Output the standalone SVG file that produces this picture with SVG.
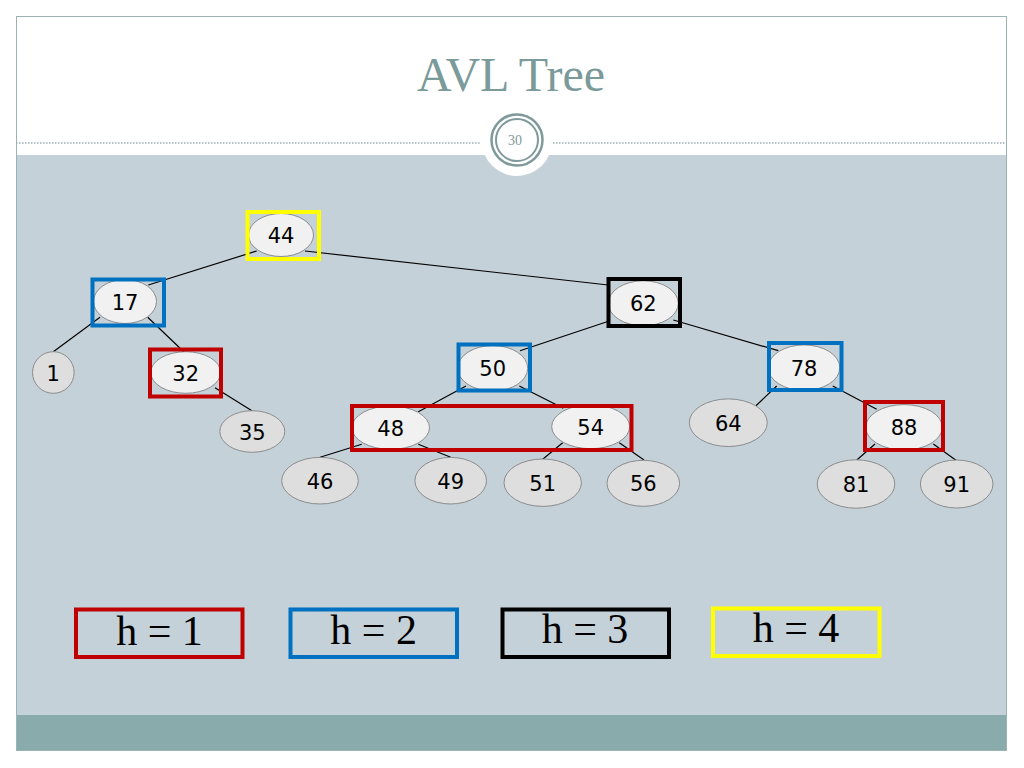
<svg xmlns="http://www.w3.org/2000/svg" width="1024" height="768" viewBox="0 0 1024 768">
<style>
.edge{stroke:#000;stroke-width:1.2;fill:none}
.inner{fill:#f1f1f1;stroke:#8c8c8c;stroke-width:1}
.leaf{fill:#dedede;stroke:#8c8c8c;stroke-width:1}
.lbl{font-family:"DejaVu Sans",Verdana,sans-serif;font-size:21px;fill:#000;text-anchor:middle}
.box{fill:none;stroke-width:4}
.leg{font-family:"Liberation Serif","Times New Roman",serif;font-size:42px;fill:#000;text-anchor:middle}
</style>
<rect x="0" y="0" width="1024" height="768" fill="#ffffff"/>
<rect x="16" y="155" width="991" height="560" fill="#c5d1d8"/>
<rect x="16" y="715" width="991" height="36" fill="#8aabab"/>
<rect x="16.5" y="16.5" width="990" height="734" fill="none" stroke="#9cb3b3" stroke-width="1"/>
<g id="header">
<text x="511" y="91" font-family="'Liberation Serif','Times New Roman',serif" font-size="48" fill="#7b9a9a" text-anchor="middle">AVL Tree</text>
<line x1="16" y1="143" x2="481" y2="143" stroke="#9aaeae" stroke-width="1.5" stroke-dasharray="1.5,1.5"/>
<line x1="547" y1="143" x2="1007" y2="143" stroke="#9aaeae" stroke-width="1.5" stroke-dasharray="1.5,1.5"/>
<circle cx="517" cy="141" r="35" fill="#ffffff"/>
<circle cx="517" cy="140" r="25.5" fill="none" stroke="#7f9a9a" stroke-width="2.5"/>
<circle cx="517" cy="140" r="21" fill="none" stroke="#7f9a9a" stroke-width="2"/>
<text x="515" y="145" font-family="'Liberation Serif','Times New Roman',serif" font-size="14" fill="#7f9a9a" text-anchor="middle">30</text>
</g>
<g id="connectors">
<line class="edge" x1="256.7" y1="251" x2="148.3" y2="285"/>
<line class="edge" x1="305" y1="251" x2="608.3" y2="285"/>
<line class="edge" x1="100" y1="317.3" x2="53.3" y2="351.7"/>
<line class="edge" x1="147.7" y1="317.3" x2="184" y2="352"/>
<line class="edge" x1="215" y1="387.7" x2="252.3" y2="411"/>
<line class="edge" x1="610" y1="320.7" x2="520" y2="350.7"/>
<line class="edge" x1="673.3" y1="320" x2="778.3" y2="350.7"/>
<line class="edge" x1="466" y1="386" x2="418.3" y2="411.7"/>
<line class="edge" x1="519.3" y1="386" x2="563.3" y2="408.3"/>
<line class="edge" x1="361.7" y1="444.3" x2="320" y2="457.3"/>
<line class="edge" x1="418.3" y1="444.3" x2="450.7" y2="457.3"/>
<line class="edge" x1="562.7" y1="442.7" x2="542.7" y2="459.3"/>
<line class="edge" x1="619.3" y1="442.7" x2="644" y2="460"/>
<line class="edge" x1="776.7" y1="386" x2="756" y2="405.7"/>
<line class="edge" x1="832.7" y1="386" x2="876.7" y2="409.3"/>
<line class="edge" x1="875" y1="444" x2="856" y2="460.7"/>
<line class="edge" x1="933.3" y1="444" x2="956.7" y2="460.7"/>
</g>
<g id="n44"><ellipse class="inner" cx="281" cy="235" rx="32.5" ry="21.5"/><text class="lbl" x="281" y="243">44</text></g>
<g id="n17"><ellipse class="inner" cx="125" cy="301.5" rx="31.5" ry="22"/><text class="lbl" x="125" y="309.5">17</text></g>
<g id="n1"><ellipse class="leaf" cx="53.3" cy="372.5" rx="20.8" ry="20.8"/><text class="lbl" x="53.3" y="380.5">1</text></g>
<g id="n32"><ellipse class="inner" cx="185.7" cy="372.5" rx="35" ry="20.8"/><text class="lbl" x="185.7" y="380.5">32</text></g>
<g id="n35"><ellipse class="leaf" cx="252.3" cy="431.5" rx="32.5" ry="20.8"/><text class="lbl" x="252.3" y="439.5">35</text></g>
<g id="n62"><ellipse class="inner" cx="643.3" cy="303.3" rx="35" ry="22.5"/><text class="lbl" x="643.3" y="311.3">62</text></g>
<g id="n50"><ellipse class="inner" cx="492.7" cy="368.3" rx="35" ry="22.8"/><text class="lbl" x="492.7" y="376.3">50</text></g>
<g id="n48"><ellipse class="inner" cx="390.7" cy="427.7" rx="38.8" ry="21.7"/><text class="lbl" x="390.7" y="435.7">48</text></g>
<g id="n54"><ellipse class="inner" cx="590.7" cy="426.7" rx="39" ry="22"/><text class="lbl" x="590.7" y="434.7">54</text></g>
<g id="n46"><ellipse class="leaf" cx="320" cy="480.7" rx="38.3" ry="23.3"/><text class="lbl" x="320" y="488.7">46</text></g>
<g id="n49"><ellipse class="leaf" cx="450.7" cy="480.7" rx="35.8" ry="23.3"/><text class="lbl" x="450.7" y="488.7">49</text></g>
<g id="n51"><ellipse class="leaf" cx="542.7" cy="482.7" rx="38.7" ry="23.7"/><text class="lbl" x="542.7" y="490.7">51</text></g>
<g id="n56"><ellipse class="leaf" cx="643.3" cy="483.3" rx="36.3" ry="23"/><text class="lbl" x="643.3" y="491.3">56</text></g>
<g id="n78"><ellipse class="inner" cx="804" cy="367.7" rx="35.8" ry="22.8"/><text class="lbl" x="804" y="375.7">78</text></g>
<g id="n64"><ellipse class="leaf" cx="728.3" cy="422.7" rx="39" ry="23.8"/><text class="lbl" x="728.3" y="430.7">64</text></g>
<g id="n88"><ellipse class="inner" cx="904" cy="427.3" rx="38.3" ry="22.7"/><text class="lbl" x="904" y="435.3">88</text></g>
<g id="n81"><ellipse class="leaf" cx="856" cy="484" rx="38.8" ry="24.2"/><text class="lbl" x="856" y="492">81</text></g>
<g id="n91"><ellipse class="leaf" cx="956.7" cy="484" rx="36.3" ry="24"/><text class="lbl" x="956.7" y="492">91</text></g>
<g id="height-boxes">
<rect class="box" x="247.5" y="212" width="71.5" height="47" stroke="#ffff00"/>
<rect class="box" x="92.5" y="279.5" width="71.5" height="46" stroke="#0070c0"/>
<rect class="box" x="150" y="349.5" width="71" height="47" stroke="#c00000"/>
<rect class="box" x="608.5" y="279" width="71.5" height="47" stroke="#000000"/>
<rect class="box" x="458.5" y="344.5" width="71.5" height="46" stroke="#0070c0"/>
<rect class="box" x="352" y="406" width="279.5" height="44" stroke="#c00000"/>
<rect class="box" x="769" y="343" width="72.5" height="47" stroke="#0070c0"/>
<rect class="box" x="865" y="402" width="78" height="48" stroke="#c00000"/>
</g>
<g id="legend">
<rect class="box" x="76" y="609.5" width="166.5" height="47.5" stroke="#c00000"/>
<text class="leg" x="159.5" y="645">h = 1</text>
<rect class="box" x="290.5" y="609.5" width="166.5" height="47.5" stroke="#0070c0"/>
<text class="leg" x="373.7" y="644.3">h = 2</text>
<rect class="box" x="502.5" y="609.5" width="166.5" height="47.5" stroke="#000000"/>
<text class="leg" x="585" y="643.3">h = 3</text>
<rect class="box" x="713" y="608.5" width="166.5" height="47.5" stroke="#ffff00"/>
<text class="leg" x="796" y="641.7">h = 4</text>
</g>
</svg>
